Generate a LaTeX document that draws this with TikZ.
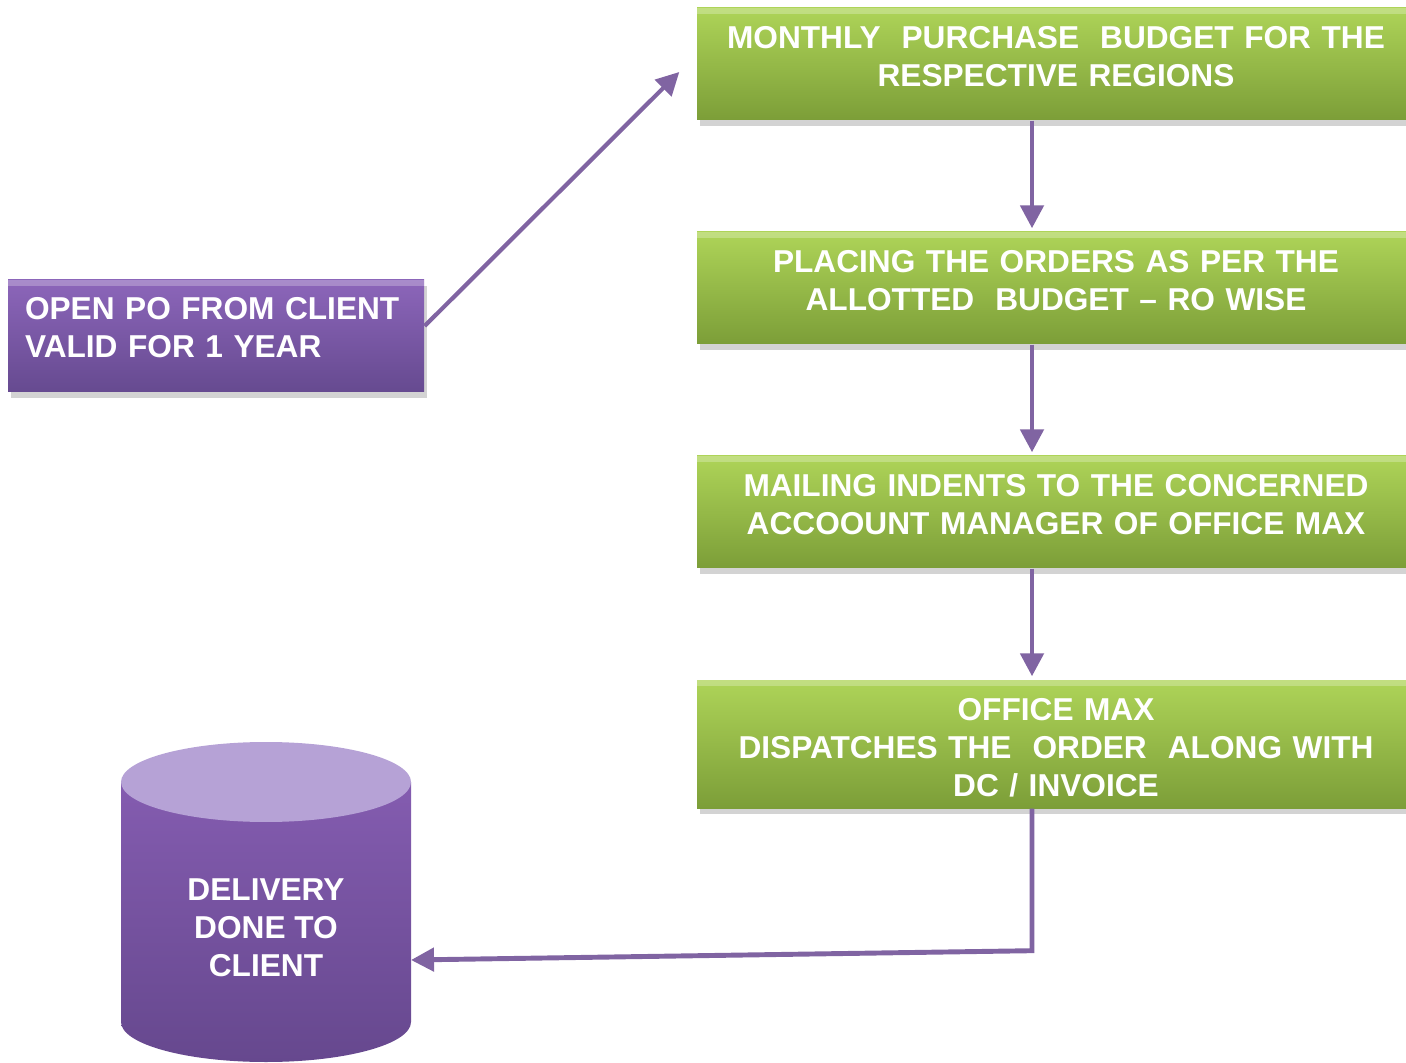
\documentclass[tikz,border=0pt]{standalone}
\usepackage{fontspec}
\setmainfont{Liberation Sans}
\usepackage{tikz}
\usetikzlibrary{positioning,shadows,arrows.meta}

\definecolor{gtop}{RGB}{174,212,88}
\definecolor{gbot}{RGB}{124,158,56}
\definecolor{ptop}{RGB}{140,102,186}
\definecolor{pbot}{RGB}{102,74,144}
\definecolor{ctop}{RGB}{182,162,214}
\definecolor{cbody}{RGB}{132,92,176}
\definecolor{cbot}{RGB}{102,72,142}
\definecolor{linkc}{RGB}{128,100,162}

\tikzset{
  greenbox/.style={rectangle,top color=gtop,bottom color=gbot,
    minimum width=7.18cm,minimum height=1.12cm,text width=6.9cm,align=center,
    text height=0.23cm,text depth=0.54cm,
    text=white,font=\bfseries\fontsize{9}{10.8}\selectfont,
    drop shadow={shadow xshift=0.3mm,shadow yshift=-0.6mm,opacity=0.35},
    path picture={\fill[white,opacity=0.25] (path picture bounding box.north west)
      rectangle ([yshift=-0.6mm]path picture bounding box.north east);}},
  purplebox/.style={rectangle,top color=ptop,bottom color=pbot,
    minimum width=4.16cm,minimum height=1.12cm,text width=3.82cm,inner xsep=0.17cm,align=left,
    text height=0.23cm,text depth=0.56cm,
    text=white,font=\bfseries\fontsize{9}{10.8}\selectfont,
    drop shadow={shadow xshift=0.3mm,shadow yshift=-0.6mm,opacity=0.35},
    path picture={\fill[white,opacity=0.25] (path picture bounding box.north west)
      rectangle ([yshift=-0.6mm]path picture bounding box.north east);}}
}

\begin{document}
\begin{tikzpicture}[node distance=2.24cm,on grid,>={Triangle[width=0.23cm,length=0.23cm]}]
\useasboundingbox (0,0) rectangle (14.06,10.62);
\clip (0,0) rectangle (14.06,10.62);

        \node[greenbox] (s_1) at (10.56,9.98) {MONTHLY\ \ PURCHASE\ \ BUDGET FOR THE\\RESPECTIVE REGIONS};
\node[greenbox] (s_2) [below=of s_1] {PLACING THE ORDERS AS PER THE\\ALLOTTED\ \ BUDGET – RO WISE};
        \node[greenbox] (s_3) [below=of s_2] {MAILING INDENTS TO THE CONCERNED\\ACCOOUNT MANAGER OF OFFICE MAX};
        \node[greenbox,minimum height=1.28cm,text depth=0.70cm] (s_4) [below=2.32cm of s_3] {OFFICE MAX\\DISPATCHES THE\ \ ORDER\ \ ALONG WITH\\DC / INVOICE};
        \node[purplebox] (po) at (2.16,7.26) {OPEN PO FROM CLIENT\\VALID FOR 1 YEAR};

        % cylinder
        \shade[top color=cbody,bottom color=cbot] (1.21,2.80) -- (1.21,0.40)
          arc[start angle=180,end angle=360,x radius=1.45,y radius=0.40] -- (4.11,2.80) -- cycle;
        \fill[ctop] (2.66,2.80) ellipse[x radius=1.45,y radius=0.40];
        \node[text=white,align=center,font=\bfseries\fontsize{9}{10.8}\selectfont] (deliv) at (2.66,1.34) {DELIVERY\\DONE TO\\CLIENT};
        \coordinate (deliv_r) at (4.11,1.02);

        \path[->,color=linkc,line width=1.4pt]
        ([yshift=1mm]po.east)
        edge [line width=1.2pt] ([xshift=-1.7mm,yshift=-0.8mm]s_1.west)
        ([xshift=-2.4mm]s_1.south) edge ([xshift=-2.4mm,yshift=0.3mm]s_2.north)
        ([xshift=-2.4mm]s_2.south) edge ([xshift=-2.4mm,yshift=0.3mm]s_3.north)
        ([xshift=-2.4mm]s_3.south) edge ([xshift=-2.4mm,yshift=0.3mm]s_4.north);
        \draw[->,draw=linkc,line width=1.4pt] ([xshift=-2.4mm]s_4.south) -- ++(0,-1.42) -- (deliv_r);
    \end{tikzpicture}
\end{document}
